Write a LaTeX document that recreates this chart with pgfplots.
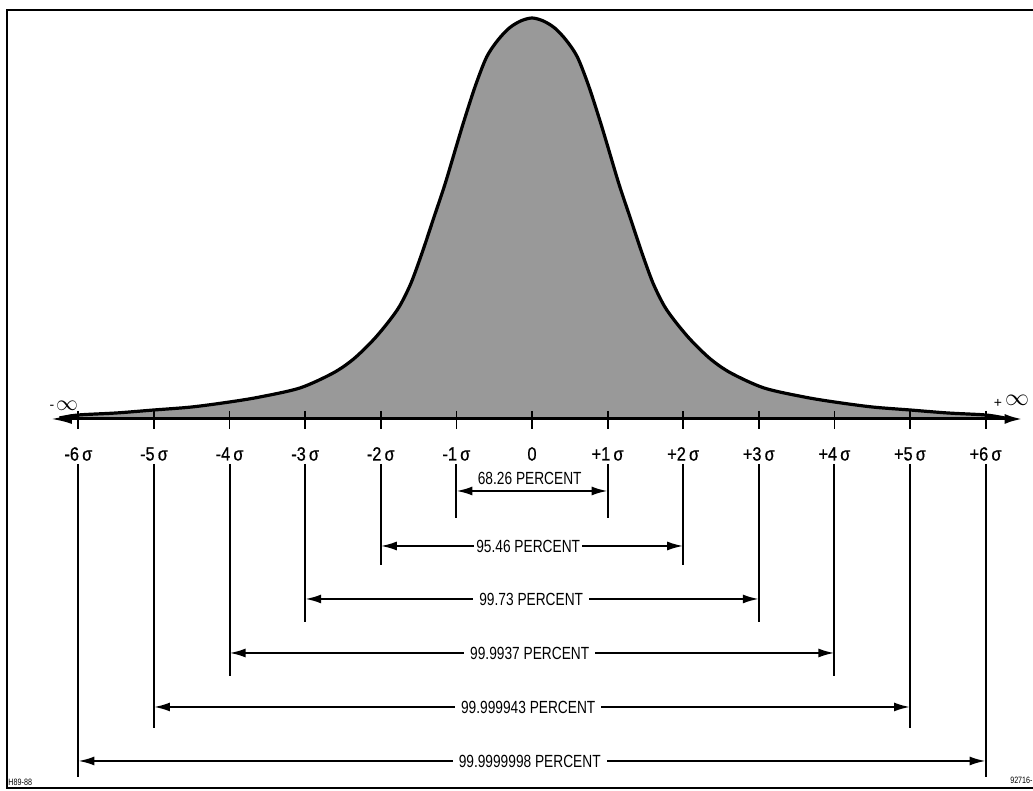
\documentclass[border=0pt]{standalone}
\usepackage{pgfplots}
\usepackage{pgfplotstable}
\pgfplotsset{compat=1.18}
\usetikzlibrary{arrows.meta}
\usepackage{fontspec}
\setmainfont{Liberation Sans}
\newfontfamily\cond{Liberation Sans}[FakeStretch=0.78]
\newfontfamily\condb{Liberation Sans}[FakeStretch=0.85,FakeBold=0.6]
\newcommand\lab{\cond\fontsize{8.8}{10}\selectfont}
\newcommand\siglab{\condb\fontsize{9.6}{10}\selectfont}
\newcommand\tinylab{\cond\fontsize{4.6}{5}\selectfont}
\definecolor{fillgray}{gray}{0.6}

% u = position in sigma, h = height of the curve above the baseline
\pgfplotstableread{
u h
-6.25 1
-6.00 4
-5.50 6
-5.00 9
-4.50 12
-4.00 17
-3.60 22
-3.07 31
-2.63 46
-2.36 60
-2.10 79
-1.90 97
-1.75 113
-1.60 136
-1.45 167
-1.30 201
-1.15 235
-1.00 273
-0.90 298
-0.75 333
-0.60 362
-0.45 379
-0.30 391
-0.15 398
0.00 401
0.15 398
0.30 391
0.45 379
0.60 362
0.75 333
0.90 298
1.00 273
1.15 235
1.30 201
1.45 167
1.60 136
1.75 113
1.90 97
2.10 79
2.36 60
2.63 46
3.07 31
3.60 22
4.00 17
4.50 12
5.00 9
5.50 6
6.00 4
6.25 1
}\curve

\begin{document}
\begin{tikzpicture}
\begin{axis}[
  scale only axis, width=516.5pt, height=395.5pt,
  xmin=-7.037, xmax=6.627, ymin=-372, ymax=419,
  hide axis, clip=false]
\coordinate (SW) at (rel axis cs:0,0);
\coordinate (NE) at (rel axis cs:1,1);
% frame
\addplot[line width=1.4pt, black] coordinates {(6.627,409) (-6.944,409) (-6.944,-369) (6.627,-369)};
% area under curve
\addplot[fill=fillgray, draw=none, smooth] table[x=u,y=h] {\curve} \closedcycle;
\addplot[black, line width=1.6pt, smooth] table[x=u,y=h] {\curve};
% baseline
\addplot[black, line width=1.5pt, {Latex[length=11pt,width=5pt]}-{Latex[length=9pt,width=5pt]}] coordinates {(-6.376,0) (6.49,0)};
% ticks
\pgfplotsinvokeforeach{-6,-5,-4,-3,-2,-1,0,1,2,3,4,5,6}{
  \addplot[black, line width=0.9pt] coordinates {(#1,8) (#1,-10)};
}
% vertical lines
\addplot[black, line width=1pt] coordinates {(-1,-45) (-1,-99)};
\addplot[black, line width=1pt] coordinates {(1,-45) (1,-99)};
\addplot[black, line width=1pt] coordinates {(-2,-45) (-2,-146)};
\addplot[black, line width=1pt] coordinates {(2,-45) (2,-146)};
\addplot[black, line width=1pt] coordinates {(-3,-45) (-3,-203)};
\addplot[black, line width=1pt] coordinates {(3,-45) (3,-203)};
\addplot[black, line width=1pt] coordinates {(-4,-45) (-4,-257)};
\addplot[black, line width=1pt] coordinates {(4,-45) (4,-257)};
\addplot[black, line width=1pt] coordinates {(-5,-45) (-5,-309)};
\addplot[black, line width=1pt] coordinates {(5,-45) (5,-309)};
\addplot[black, line width=1pt] coordinates {(-6,-45) (-6,-358)};
\addplot[black, line width=1pt] coordinates {(6,-45) (6,-358)};
% range arrows
\addplot[black, line width=1pt, {Latex[length=8pt,width=4.5pt]}-{Latex[length=8pt,width=4.5pt]}] coordinates {(-1,-72) (1,-72)};
\addplot[black, line width=1pt, {Latex[length=8pt,width=4.5pt]}-{Latex[length=8pt,width=4.5pt]}] coordinates {(-2,-127) (2,-127)};
\addplot[black, line width=1pt, {Latex[length=8pt,width=4.5pt]}-{Latex[length=8pt,width=4.5pt]}] coordinates {(-3,-180) (3,-180)};
\addplot[black, line width=1pt, {Latex[length=8pt,width=4.5pt]}-{Latex[length=8pt,width=4.5pt]}] coordinates {(-4,-234) (4,-234)};
\addplot[black, line width=1pt, {Latex[length=8pt,width=4.5pt]}-{Latex[length=8pt,width=4.5pt]}] coordinates {(-5,-288) (5,-288)};
\addplot[black, line width=1pt, {Latex[length=8pt,width=4.5pt]}-{Latex[length=8pt,width=4.5pt]}] coordinates {(-6,-342) (6,-342)};
% range labels
\node[font=\lab, inner sep=1pt] at (axis cs:-0.03,-59) {68.26 PERCENT};
\node[font=\lab, fill=white, inner xsep=1pt, inner ysep=1pt] at (axis cs:-0.05,-127) {95.46 PERCENT};
\node[font=\lab, fill=white, inner xsep=3pt, inner ysep=1pt] at (axis cs:-0.01,-180) {99.73 PERCENT};
\node[font=\lab, fill=white, inner xsep=3pt, inner ysep=1pt] at (axis cs:-0.03,-234) {99.9937 PERCENT};
\node[font=\lab, fill=white, inner xsep=3pt, inner ysep=1pt] at (axis cs:-0.05,-288) {99.999943 PERCENT};
\node[font=\lab, fill=white, inner xsep=3pt, inner ysep=1pt] at (axis cs:-0.03,-342) {99.9999998 PERCENT};
% sigma labels
\node[font=\siglab] at (axis cs:-6,-35) {-6\,σ};
\node[font=\siglab] at (axis cs:-5,-35) {-5\,σ};
\node[font=\siglab] at (axis cs:-4,-35) {-4\,σ};
\node[font=\siglab] at (axis cs:-3,-35) {-3\,σ};
\node[font=\siglab] at (axis cs:-2,-35) {-2\,σ};
\node[font=\siglab] at (axis cs:-1,-35) {-1\,σ};
\node[font=\siglab] at (axis cs:0,-35) {0};
\node[font=\siglab] at (axis cs:1,-35) {+1\,σ};
\node[font=\siglab] at (axis cs:2,-35) {+2\,σ};
\node[font=\siglab] at (axis cs:3,-35) {+3\,σ};
\node[font=\siglab] at (axis cs:4,-35) {+4\,σ};
\node[font=\siglab] at (axis cs:5,-35) {+5\,σ};
\node[font=\siglab] at (axis cs:6,-35) {+6\,σ};
% infinity
\node[inner sep=0pt, font=\fontsize{7}{7}\selectfont] at (axis cs:-6.35,12) {-};
\node[inner sep=0pt, font=\fontsize{11}{11}\selectfont] at (axis cs:-6.15,13) {$\infty$};
\node[inner sep=0pt, font=\fontsize{7}{7}\selectfont] at (axis cs:6.163,16) {+};
\node[inner sep=0pt, font=\fontsize{11.5}{11.5}\selectfont] at (axis cs:6.416,19) {$\infty$};
% corner marks
\node[font=\tinylab, anchor=west, inner sep=0pt] at (axis cs:-6.93,-363) {H89-88};
\node[font=\tinylab, anchor=east, inner sep=0pt] at (axis cs:6.627,-361) {92716-};
\end{axis}
\pgfresetboundingbox
\useasboundingbox (SW) rectangle (NE);
\end{tikzpicture}
\end{document}
